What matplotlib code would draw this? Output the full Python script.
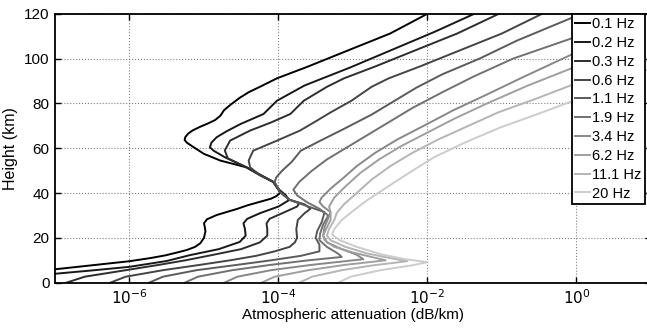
import numpy as np
import matplotlib
matplotlib.use('Agg')
import matplotlib.pyplot as plt

plt.rcParams['font.family'] = ['Liberation Sans', 'DejaVu Sans']
plt.rcParams['font.size'] = 11

# frequencies (legend labels)
freq_labels = ['0.1 Hz', '0.2 Hz', '0.3 Hz', '0.6 Hz', '1.1 Hz',
               '1.9 Hz', '3.4 Hz', '6.2 Hz', '11.1 Hz', '20 Hz']

# height (km) and log10 attenuation (dB/km)
h_01 = [0, 3, 6, 7.8, 9.6, 11, 12.2, 13.5, 14.6, 16, 17.6, 20, 23, 25, 26.5, 28.3, 30.2, 31.5,
        33, 34.5, 36.1, 37.5, 38.6, 40, 41.5, 43, 45, 48, 51.5, 54.5, 57.5, 60.5, 62.5, 63.7, 65,
        66.6, 68, 69.6, 71, 72.6, 74.5, 77, 79.5, 82.5, 85, 87.4, 91.2, 96.5, 104, 111.2, 120]
a_01 = [-8.2, -7.6, -7.0, -6.5, -6.0, -5.72, -5.52, -5.36, -5.23, -5.12, -5.05, -5.0, -4.98,
        -4.99, -5.0, -4.96, -4.83, -4.7, -4.55, -4.42, -4.25, -4.1, -4.03, -3.98, -3.99, -4.03,
        -4.07, -4.25, -4.43, -4.78, -5.0, -5.14, -5.23, -5.26, -5.25, -5.21, -5.15, -5.05, -4.95,
        -4.85, -4.78, -4.73, -4.64, -4.52, -4.4, -4.25, -4.02, -3.6, -3.04, -2.5, -2.0]

h_02 = [0, 4, 5.5, 7.1, 9.7, 12.3, 15, 18.2, 21, 24, 26.5, 28.5, 31, 34, 36.8, 39, 41.5, 45,
        51.5, 56, 58.9, 60.4, 62.5, 64.9, 67.5, 70.8, 75.3, 81.2, 88, 96, 104, 112, 120]
a_02 = [-7.6, -7.0, -6.5, -6.0, -5.5, -5.19, -4.8, -4.52, -4.44, -4.45, -4.47, -4.42, -4.25, -4.0,
        -3.86, -3.9, -3.99, -4.07, -4.43, -4.72, -4.87, -4.92, -4.9, -4.83, -4.7, -4.51, -4.2,
        -4.02, -3.65, -3.04, -2.47, -1.9, -1.37]

h_03 = [0, 2.7, 5.6, 8, 10, 12.3, 15, 18, 21, 24, 26.4, 28.5, 31, 34, 35.5, 37, 40.5, 45, 51.5,
        55.5, 59, 63.4, 67.9, 71.5, 75.3, 81.2, 87.4, 91.2, 96.5, 104, 111.2, 120]
a_03 = [-6.85, -6.6, -6.05, -5.6, -5.25, -4.9, -4.5, -4.25, -4.15, -4.15, -4.16, -4.12,
        -3.95, -3.75, -3.72, -3.85, -3.98, -4.07, -4.43, -4.68, -4.72, -4.65, -4.38, -4.1, -3.84,
        -3.66, -3.35, -3.12, -2.7, -2.14, -1.6, -1.04]

h_06 = [0, 2.7, 5.6, 8, 10, 12, 14, 16, 18, 20, 24, 28, 31, 33, 35, 37, 40.5, 45, 48, 51.5,
        54.5, 58.9, 63.4, 67.9, 72, 76, 81.2, 87.4, 91.2, 96.5, 104, 111.2, 120]
a_06 = [-6.26, -6.05, -5.55, -5.05, -4.65, -4.3, -4.05, -3.85, -3.78, -3.75, -3.76, -3.74,
        -3.65, -3.57, -3.65, -3.85, -3.98, -4.07, -4.25, -4.38, -4.4, -4.34, -4.02, -3.71, -3.5,
        -3.3, -3.02, -2.75, -2.52, -2.1, -1.54, -1.0, -0.46]

h_11 = [0, 2.7, 5.6, 8, 10, 12, 14, 17, 20, 23, 27, 31.5, 34, 37, 40.5, 45, 47, 50, 54, 58.9,
        64, 69, 75, 81, 87, 93, 100, 108, 118.5]
a_11 = [-5.74, -5.55, -5.1, -4.55, -4.1, -3.7, -3.45, -3.45, -3.5, -3.48, -3.42, -3.38,
        -3.6, -3.85, -3.98, -4.05, -4.03, -3.95, -3.82, -3.7, -3.4, -3.1, -2.75, -2.45, -2.15,
        -1.8, -1.3, -0.8, -0.04]

h_19 = [0, 2.7, 5.6, 8, 10, 11.5, 13, 16, 19, 22, 26, 30, 33, 36, 39, 41.5, 45, 50, 55, 60, 66,
        72, 78, 85, 92, 100, 109.3]
a_19 = [-5.26, -5.08, -4.62, -4.1, -3.6, -3.15, -3.2, -3.35, -3.45, -3.44, -3.4, -3.33,
        -3.45, -3.62, -3.75, -3.8, -3.72, -3.55, -3.35, -3.1, -2.8, -2.5, -2.2, -1.8, -1.38,
        -0.85, -0.04]

h_34 = [0, 2.7, 5.6, 8, 10.5, 12.5, 15, 18, 21, 25, 29, 31.5, 34, 36, 38, 42, 47, 52, 58, 64,
        70, 77, 84, 92, 102.2]
a_34 = [-4.73, -4.55, -4.1, -3.55, -2.86, -2.95, -3.15, -3.35, -3.4, -3.38, -3.33, -3.3,
        -3.4, -3.45, -3.42, -3.3, -3.12, -2.95, -2.7, -2.4, -2.05, -1.65, -1.2, -0.7, -0.04]

h_62 = [0, 2.7, 5.6, 8, 10, 11.5, 13.5, 16, 19, 21, 24, 28, 31, 34, 38, 43, 49, 55, 61, 67, 73,
        80, 88, 96, 105]
a_62 = [-4.23, -4.05, -3.6, -3.1, -2.56, -2.75, -3.0, -3.25, -3.38, -3.4, -3.36, -3.3,
        -3.3, -3.32, -3.25, -3.1, -2.9, -2.65, -2.35, -2.0, -1.65, -1.2, -0.65, -0.04, 0.6]

h_111 = [0, 2.7, 5.6, 7.8, 9.6, 11, 13, 16, 19, 21, 24, 28, 31, 35, 40, 46, 52, 58, 64, 70, 76,
         82, 88.5, 100]
a_111 = [-3.72, -3.55, -3.15, -2.72, -2.27, -2.5, -2.8, -3.1, -3.3, -3.35, -3.32, -3.25,
         -3.22, -3.12, -2.95, -2.75, -2.5, -2.2, -1.85, -1.45, -1.05, -0.55, -0.04, 0.7]

h_200 = [0, 2.7, 5.6, 7.8, 9.2, 10.5, 12.5, 16, 19, 21.5, 24, 28, 32, 36.8, 42.7, 50, 56, 62.5,
         69.3, 75.5, 81.2, 90, 100]
a_200 = [-3.2, -3.03, -2.63, -2.2, -2.0, -2.3, -2.6, -2.95, -3.18, -3.28, -3.25, -3.15,
         -3.0, -2.81, -2.54, -2.2, -1.91, -1.5, -1.02, -0.5, -0.04, 0.6, 1.3]

heights = [h_01, h_02, h_03, h_06, h_11, h_19, h_34, h_62, h_111, h_200]
atten = [a_01, a_02, a_03, a_06, a_11, a_19, a_34, a_62, a_111, a_200]

fig = plt.figure(figsize=(6.47, 3.28), dpi=100)
ax = fig.add_axes([0.085, 0.138, 0.921, 0.820])

grays = np.linspace(0.0, 0.8, len(freq_labels))
for h, a, lab, g in zip(heights, atten, freq_labels, grays):
    ax.plot(10.0 ** np.array(a), h, color=(g, g, g), lw=1.4, label=lab,
            solid_joinstyle='round')

ax.set_xscale('log')
ax.set_xlim(1e-7, 1e1)
ax.set_ylim(0, 120)
ax.set_xticks([1e-6, 1e-4, 1e-2, 1e0])
ax.set_xticklabels(['$10^{-6}$', '$10^{-4}$', '$10^{-2}$', '$10^{0}$'])
ax.xaxis.set_minor_locator(matplotlib.ticker.NullLocator())
ax.set_yticks(range(0, 121, 20))
ax.tick_params(direction='in', top=True, right=True, length=4, width=1, labelsize=11, pad=4)
ax.grid(True, linestyle=':', color='0.5', lw=0.8)
for s in ax.spines.values():
    s.set_linewidth(1.3)

ax.set_xlabel('Atmospheric attenuation (dB/km)', fontsize=11, labelpad=1)
ax.set_ylabel('Height (km)', fontsize=11.5, labelpad=4)

leg = ax.legend(loc='upper right', bbox_to_anchor=(645 / 647, 1 - 14 / 328),
                bbox_transform=fig.transFigure, borderaxespad=0, fancybox=False,
                framealpha=1, edgecolor='black', handlelength=1.0, handletextpad=0.2,
                labelspacing=0.33, borderpad=0.22, fontsize=10.5)
leg.get_frame().set_linewidth(1.3)

fig.savefig('out.png', dpi=100)
